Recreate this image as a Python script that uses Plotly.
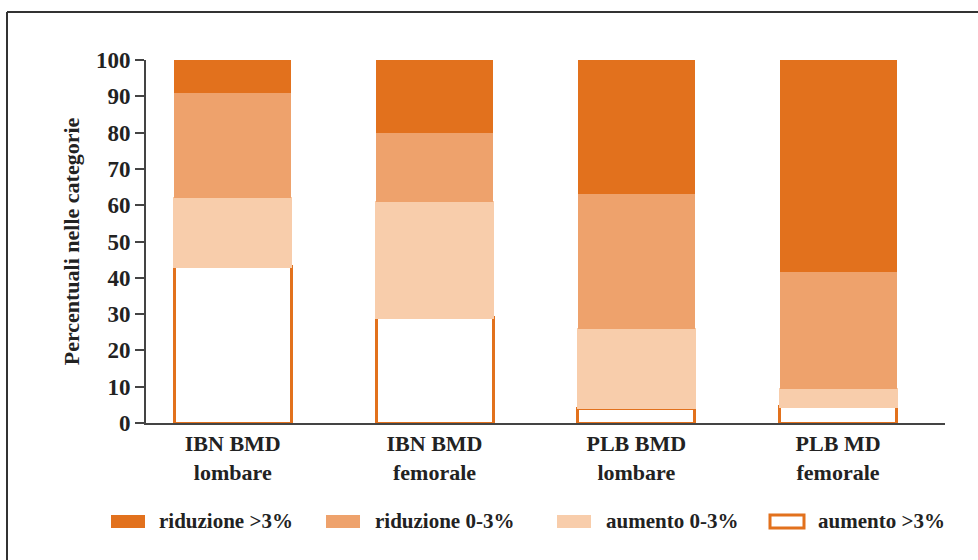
import plotly.graph_objects as go

# Categories and series (percentuali per categoria)
categories = ["IBN BMD<br>lombare", "IBN BMD<br>femorale", "PLB BMD<br>lombare", "PLB MD<br>femorale"]
aumento_oltre_3 = [43, 29, 4, 4.5]
aumento_0_3 = [19, 32, 22, 5]
riduzione_0_3 = [29, 19, 37, 32]
riduzione_oltre_3 = [9, 20, 37, 58.5]
series_names = ["riduzione >3%", "riduzione 0-3%", "aumento 0-3%", "aumento >3%"]
y_ticks = [0, 10, 20, 30, 40, 50, 60, 70, 80, 90, 100]

DARK = "#E2711D"
MID = "#EEA26C"
LIGHT = "#F8CDAB"
FONT = "Liberation Serif"

W, H = 978, 560
ML, MR, MT, MB = 146, 33, 60, 137
PW, PH = W - ML - MR, H - MT - MB


def px(x):
    return (x - ML) / PW


def py(y):
    return (H - MB - y) / PH


fig = go.Figure()
fig.add_bar(x=categories, y=aumento_oltre_3, name=series_names[3],
            marker=dict(color="white", line=dict(color=DARK, width=3)))
fig.add_bar(x=categories, y=aumento_0_3, name=series_names[2],
            marker=dict(color=LIGHT, line=dict(color=LIGHT, width=2)))
fig.add_bar(x=categories, y=riduzione_0_3, name=series_names[1],
            marker=dict(color=MID, line=dict(width=0)))
fig.add_bar(x=categories, y=riduzione_oltre_3, name=series_names[0],
            marker=dict(color=DARK, line=dict(width=0)))

shapes = [
    # outer frame (top and left edges)
    dict(type="line", xref="paper", yref="paper", x0=px(7), x1=px(990), y0=py(12), y1=py(12),
         line=dict(color="#333", width=2)),
    dict(type="line", xref="paper", yref="paper", x0=px(7), x1=px(7), y0=py(12), y1=py(570),
         line=dict(color="#333", width=2)),
]
annotations = []

# legend row
legend_items = [
    (series_names[0], DARK, DARK, 110, 157),
    (series_names[1], MID, MID, 325, 373),
    (series_names[2], LIGHT, LIGHT, 556, 604),
    (series_names[3], "white", DARK, 769, 816),
]
ly = 521
for name, fill, edge, sx, tx in legend_items:
    lw = 3 if fill == "white" else 0
    shapes.append(dict(type="rect", xref="paper", yref="paper",
                       x0=px(sx + 1), x1=px(sx + 35), y0=py(ly + 7), y1=py(ly - 6),
                       fillcolor=fill, line=dict(color=edge, width=lw)))
    annotations.append(dict(xref="paper", yref="paper", x=px(tx), y=py(ly), text=f"<b>{name}</b>",
                            showarrow=False, xanchor="left", yanchor="middle",
                            font=dict(family=FONT, size=21, color="#222")))

fig.update_layout(
    width=W, height=H,
    margin=dict(l=ML, r=MR, t=MT, b=MB),
    barmode="stack",
    bargap=0.42,
    showlegend=False,
    plot_bgcolor="white",
    paper_bgcolor="white",
    font=dict(family=FONT, color="#222"),
    shapes=shapes,
    annotations=annotations,
    xaxis=dict(
        range=[-0.43, 3.53],
        showline=True, linecolor="#444", linewidth=2,
        ticks="", showgrid=False, zeroline=False,
        tickfont=dict(family=FONT, size=22, color="#222"),
        tickprefix="<b>", ticksuffix="</b>",
    ),
    yaxis=dict(
        range=[0, 100],
        tickvals=y_ticks,
        ticktext=[f"<b>{v}</b>" for v in y_ticks],
        showline=True, linecolor="#444", linewidth=2,
        ticks="outside", ticklen=9, tickwidth=2, tickcolor="#444",
        showgrid=False, zeroline=False,
        tickfont=dict(family=FONT, size=23, color="#222"),
        title=dict(text="<b>Percentuali nelle categorie</b>", standoff=10,
                   font=dict(family=FONT, size=22, color="#222")),
    ),
)

fig.write_html("out.html")
